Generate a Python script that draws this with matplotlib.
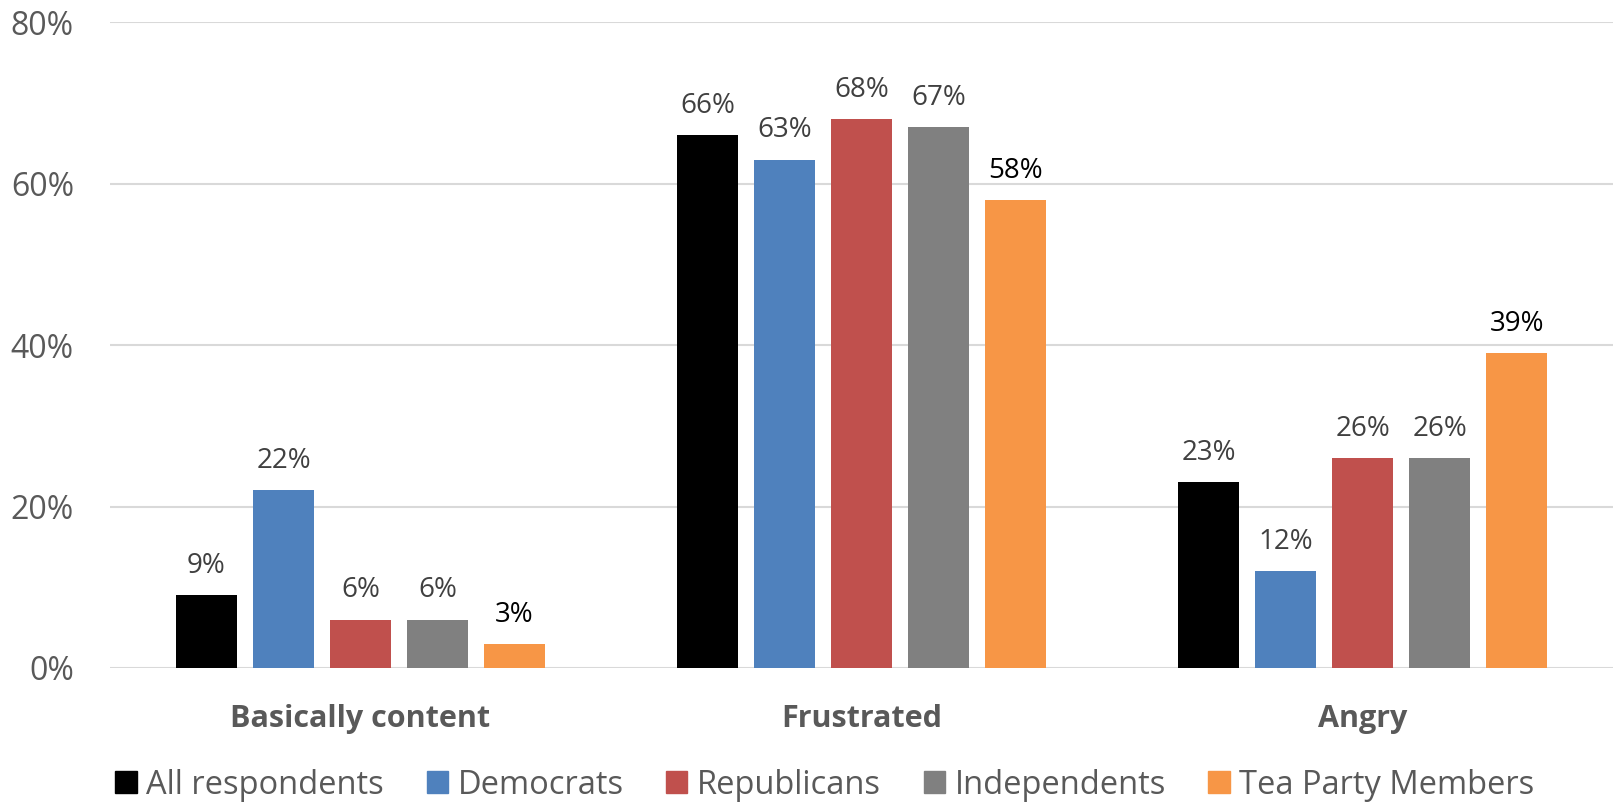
import numpy as np
import matplotlib.pyplot as plt
from matplotlib.patches import Rectangle

plt.rcParams['font.family'] = ['Open Sans', 'DejaVu Sans']

# Data
categories = ['Basically content', 'Frustrated', 'Angry']
series_names = ['All respondents', 'Democrats', 'Republicans', 'Independents', 'Tea Party Members']
all_respondents = [9, 66, 23]
democrats = [22, 63, 12]
republicans = [6, 68, 26]
independents = [6, 67, 26]
tea_party = [3, 58, 39]
y_ticks = [0, 20, 40, 60, 80]

series_values = [all_respondents, democrats, republicans, independents, tea_party]
colors = ['#000000', '#4F81BD', '#C0504D', '#808080', '#F79646']
label_colors = ['#404040', '#404040', '#404040', '#404040', '#000000']
gray = '#595959'

fig = plt.figure(figsize=(16.17, 8.02), dpi=100)
ax = fig.add_axes([110 / 1617, 134 / 802, 1503 / 1617, 645.7 / 802])

x = np.arange(len(categories))
step = 0.1538
width = 0.121
for i, vals in enumerate(series_values):
    pos = x + (i - 2) * step
    bars = ax.bar(pos, vals, width, color=colors[i], label=series_names[i], zorder=3)
    for b, v in zip(bars, vals):
        ax.annotate(f'{v}%', (b.get_x() + b.get_width() / 2, v),
                    xytext=(0, 11), textcoords='offset points',
                    ha='center', va='bottom', fontsize=20, color=label_colors[i])

ax.set_xlim(-0.5, 2.5)
ax.set_ylim(0, 80)
ax.set_yticks(y_ticks)
ax.set_yticklabels([f'{t}%' for t in y_ticks], fontsize=23, color=gray)
ax.set_xticks(x)
ax.set_xticklabels(categories, fontsize=22, fontweight='bold', color=gray)
ax.tick_params(axis='y', length=0, pad=26)
ax.tick_params(axis='x', length=0, pad=26)
ax.grid(axis='y', color='#D9D9D9', linewidth=1.5, zorder=0)
for s in ax.spines.values():
    s.set_visible(False)

handles = [Rectangle((0, 0), 1, 1, color=c) for c in colors]
leg = fig.legend(handles, series_names, loc='center', ncol=5,
                 bbox_to_anchor=(825 / 1617, 1 - 785 / 802), frameon=False,
                 fontsize=23.5, handlelength=0.65, handleheight=0.65,
                 handletextpad=0.3, columnspacing=1.3)
for t in leg.get_texts():
    t.set_color(gray)

fig.savefig('out.png', dpi=100)
